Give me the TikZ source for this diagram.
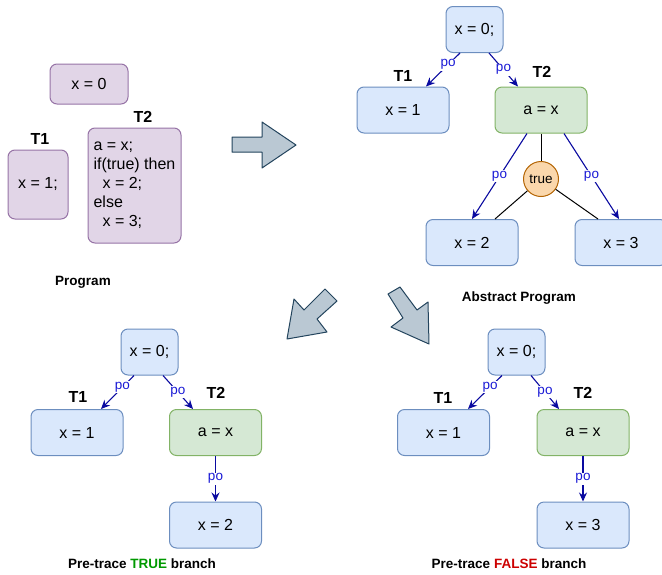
\documentclass[tikz,border=0pt]{standalone}
\usepackage{fontspec}
\setmainfont{Liberation Sans}
\usetikzlibrary{arrows.meta}
\definecolor{progfill}{HTML}{E1D5E7}
\definecolor{progline}{HTML}{9673A6}
\definecolor{stmtfill}{HTML}{DAE8FC}
\definecolor{stmtline}{HTML}{6C8EBF}
\definecolor{readfill}{HTML}{D5E8D4}
\definecolor{readline}{HTML}{82B366}
\definecolor{condfill}{HTML}{FAD7AC}
\definecolor{condline}{HTML}{B46504}
\definecolor{bigfill}{HTML}{BAC8D3}
\definecolor{bigline}{HTML}{23445D}
\definecolor{poline}{HTML}{0A0AA0}
\definecolor{potext}{HTML}{1A1AD6}
\definecolor{truegreen}{HTML}{009900}
\definecolor{falsered}{HTML}{CC0000}
\begin{document}
\begin{tikzpicture}[x=1pt,y=-1pt,line join=round]
	\tikzset{
		box/.style={draw, rounded corners=7pt, line width=1pt, inner sep=0pt, font=\fontsize{16}{19}\selectfont},
		progbox/.style={box, fill=progfill, draw=progline},
		stmt/.style={box, fill=stmtfill, draw=stmtline, minimum width=92pt, minimum height=46pt},
		readbox/.style={box, fill=readfill, draw=readline, minimum width=92pt, minimum height=46pt},
		initbox/.style={stmt, minimum width=57pt},
		cond/.style={circle, draw=condline, fill=condfill, line width=1pt, minimum size=35pt, inner sep=0pt, font=\fontsize{13.5}{16}\selectfont},
		thr/.style={font=\bfseries\fontsize{16}{19}\selectfont},
		caption/.style={font=\bfseries\fontsize{13.5}{16}\selectfont},
		po/.style={draw=poline, line width=1.1pt, -{Stealth[length=9pt,width=8pt]}},
		polabel/.style={fill=white, text=potext, inner sep=1pt, font=\fontsize{13.5}{16}\selectfont},
		plain/.style={draw=black, line width=1pt},
		bigarrow/.style={draw=bigline, fill=bigfill, line width=1pt}
	}
	\useasboundingbox (0,0) rectangle (662,574);

	% program
	\node[progbox, minimum width=78pt, minimum height=40pt] (p0) at (89,84) {x = 0};
	\node[progbox, minimum width=60pt, minimum height=69pt] (p1) at (38,184.5) {x = 1;};
	\node[progbox, minimum width=93pt, minimum height=115pt, align=left] (p2) at (134.5,185.5)
		{a = x;\\ if(true) then\\ \hspace*{9pt}x = 2;\\ else\\ \hspace*{9pt}x = 3;};
	\node[thr] (pT1) at (40,139) {T1};
	\node[thr] (pT2) at (143,117) {T2};
	\node[caption] (pcap) at (83,282) {Program};

	% abstract program
	\node[initbox] (a0) at (474.5,29.5) {x = 0;};
	\node[stmt] (a1) at (403,110) {x = 1};
	\node[readbox] (a2) at (541,110) {a = x};
	\node[cond] (at) at (541,179) {true};
	\node[stmt] (a3) at (472,242.5) {x = 2};
	\node[stmt] (a4) at (621,242.5) {x = 3};
	\node[thr] (aT1) at (403,76) {T1};
	\node[thr] (aT2) at (542,72) {T2};
	\node[caption] (acap) at (519,298) {Abstract Program};
	\draw[po] ([xshift=-14.5pt]a0.south) -- node[polabel, pos=0.35] {po} ([xshift=23pt]a1.north);
	\draw[po] ([xshift=14.5pt]a0.south) -- node[polabel] {po} ([xshift=-23pt]a2.north);
	\draw[po] ([xshift=-14pt]a2.south) -- node[polabel] {po} (a3.north);
	\draw[po] ([xshift=23pt]a2.south) -- node[polabel] {po} ([xshift=-2pt]a4.north);
	\draw[plain] (a2.south) -- (at.north);
	\draw[plain] (at) -- ([xshift=23pt]a3.north);
	\draw[plain] (at) -- ([xshift=-23pt]a4.north);

	% true branch
	\node[initbox] (t0) at (149.5,352) {x = 0;};
	\node[stmt] (t1) at (77,432.5) {x = 1};
	\node[readbox] (t2) at (215.5,432.5) {a = x};
	\node[stmt] (t3) at (215.5,525) {x = 2};
	\node[thr] (tT1) at (78,397) {T1};
	\node[thr] (tT2) at (216,393) {T2};
	\node[caption] (tcap) at (142,564) {Pre-trace \textcolor{truegreen}{TRUE} branch};
	\draw[po] ([xshift=-15.5pt]t0.south) -- node[polabel, pos=0.35] {po} ([xshift=24pt]t1.north);
	\draw[po] ([xshift=13.5pt]t0.south) -- node[polabel] {po} ([xshift=-22.5pt]t2.north);
	\draw[po] (t2) -- node[polabel] {po} (t3);

	% false branch
	\node[initbox] (f0) at (516.5,352) {x = 0;};
	\node[stmt] (f1) at (443.5,432.5) {x = 1};
	\node[readbox] (f2) at (583,432.5) {a = x};
	\node[stmt] (f3) at (583,525) {x = 3};
	\node[thr] (fT1) at (443,398) {T1};
	\node[thr] (fT2) at (583,393) {T2};
	\node[caption] (fcap) at (509,564) {Pre-trace \textcolor{falsered}{FALSE} branch};
	\draw[po] ([xshift=-14.5pt]f0.south) -- node[polabel, pos=0.35] {po} ([xshift=24.5pt]f1.north);
	\draw[po] ([xshift=14.5pt]f0.south) -- node[polabel] {po} ([xshift=-24pt]f2.north);
	\draw[po] (f2) -- node[polabel] {po} (f3);

	% big arrows
	\draw[bigarrow] (232,137) -- (262,137) -- (262,122) -- (296,145) -- (262,168) -- (262,152) -- (232,152) -- cycle;
	\draw[bigarrow] (287,339) -- (294,299) -- (304,310) -- (325,289) -- (337,301) -- (317,319) -- (327,332) -- cycle;
	\draw[bigarrow] (400,287) -- (417,310) -- (428,302) -- (429,344) -- (391,327) -- (403,318) -- (388,294) -- cycle;
\end{tikzpicture}
\end{document}
